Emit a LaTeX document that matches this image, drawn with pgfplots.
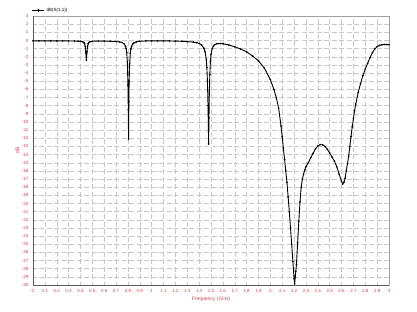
\documentclass[border=0pt]{standalone}
\usepackage{pgfplots}
\pgfplotsset{compat=1.18}
\usepackage{fontspec}
\setmainfont{Liberation Sans}
\definecolor{tickred}{RGB}{225,60,70}
\definecolor{gridgray}{RGB}{200,200,200}
\definecolor{framedark}{RGB}{90,90,90}
\definecolor{framelight}{RGB}{160,160,160}
\begin{document}
\begin{tikzpicture}[x=1pt,y=1pt]
\useasboundingbox (0,0) rectangle (417,311);
\begin{axis}[
  at={(33pt,26pt)}, anchor=south west,
  scale only axis, width=356pt, height=269pt,
  xmin=0, xmax=3, ymin=-30, ymax=3,
  xtick={0,0.1,...,3.01}, ytick={-30,-29,...,3},
  grid=major,
  major grid style={gridgray, dash pattern=on 5pt off 2.5pt, dash phase=1.5pt, line width=0.45pt},
  major tick length=0pt,
  axis line style={framelight, line width=0.8pt},
  tick label style={font=\fontsize{4.5}{5}\selectfont, text=tickred},
  /pgf/number format/assume math mode=true,
  xticklabel style={yshift=-1pt},
  yticklabel style={xshift=-1pt},
  xlabel={Frequency (GHz)}, ylabel={dB},
  label style={font=\fontsize{5}{6}\selectfont, text=tickred},
  xlabel style={yshift=3pt},
  ylabel style={yshift=-4pt},
  legend style={at={(0,1)}, anchor=south west, draw=none, fill=none,
    font=\fontsize{4.5}{5}\selectfont, inner sep=0pt, xshift=-1pt, yshift=1pt},
  legend image code/.code={
    \draw[black, line width=0.4pt] (0pt,0pt) -- (12pt,0pt);
    \fill[black] (6pt,0pt) circle (0.8pt);
  },
  clip=true,
]
\addplot[black, line width=0.9pt, mark=*, mark size=0.3pt] table {
x y
0.00 -0.05
0.05 -0.05
0.10 -0.05
0.15 -0.05
0.20 -0.05
0.25 -0.05
0.30 -0.06
0.35 -0.07
0.38 -0.09
0.40 -0.11
0.42 -0.17
0.43 -0.27
0.435 -0.4
0.44 -0.75
0.445 -1.5
0.45 -2.4
0.455 -1.4
0.46 -0.7
0.465 -0.4
0.47 -0.27
0.48 -0.16
0.50 -0.1
0.55 -0.07
0.60 -0.08
0.65 -0.1
0.70 -0.13
0.73 -0.18
0.75 -0.25
0.77 -0.45
0.78 -0.75
0.785 -1.0
0.79 -1.5
0.795 -2.6
0.80 -5.5
0.803 -8.5
0.805 -12.1
0.808 -7.5
0.81 -5.0
0.815 -2.8
0.82 -1.6
0.825 -1.05
0.83 -0.75
0.84 -0.45
0.85 -0.3
0.87 -0.18
0.90 -0.1
0.95 -0.06
1.00 -0.05
1.05 -0.05
1.10 -0.05
1.15 -0.06
1.20 -0.08
1.25 -0.1
1.30 -0.14
1.35 -0.2
1.38 -0.27
1.40 -0.36
1.42 -0.55
1.44 -0.95
1.45 -1.4
1.46 -2.3
1.465 -3.3
1.47 -5.0
1.475 -8.0
1.48 -12.7
1.483 -9.5
1.486 -6.5
1.49 -4.2
1.495 -2.6
1.50 -1.7
1.51 -1.0
1.52 -0.7
1.53 -0.52
1.55 -0.4
1.58 -0.38
1.60 -0.4
1.65 -0.55
1.70 -0.78
1.75 -1.05
1.80 -1.4
1.85 -1.9
1.90 -2.5
1.95 -3.4
2.00 -4.8
2.03 -6.0
2.05 -7.0
2.07 -8.3
2.09 -10.5
2.10 -11.8
2.11 -13.2
2.12 -14.6
2.13 -16.0
2.14 -17.4
2.15 -19.2
2.16 -21.0
2.17 -23.0
2.18 -25.0
2.19 -27.1
2.20 -29.2
2.205 -29.8
2.21 -29.0
2.215 -28.3
2.22 -27.5
2.23 -24.8
2.24 -22.2
2.25 -19.8
2.26 -18.0
2.27 -17.0
2.28 -16.4
2.29 -15.9
2.30 -15.5
2.32 -15.0
2.34 -14.4
2.36 -13.85
2.38 -13.3
2.40 -12.95
2.42 -12.78
2.44 -12.8
2.46 -13.0
2.48 -13.35
2.50 -13.8
2.52 -14.3
2.54 -14.8
2.56 -15.5
2.58 -16.4
2.60 -17.3
2.61 -17.6
2.62 -17.4
2.63 -16.9
2.64 -16.0
2.65 -15.1
2.66 -14.2
2.67 -13.0
2.68 -11.8
2.69 -10.6
2.70 -9.6
2.71 -8.6
2.72 -7.8
2.74 -6.4
2.76 -5.3
2.78 -4.3
2.80 -3.5
2.82 -2.8
2.84 -2.1
2.86 -1.5
2.88 -1.05
2.90 -0.75
2.92 -0.6
2.94 -0.53
2.96 -0.5
2.98 -0.5
3.00 -0.52
};
\addlegendentry{dB(S(1,1))}
\draw[framedark, line width=0.9pt] (rel axis cs:0,1) -- (rel axis cs:0,0) -- (rel axis cs:1,0);
\end{axis}
\end{tikzpicture}
\end{document}
